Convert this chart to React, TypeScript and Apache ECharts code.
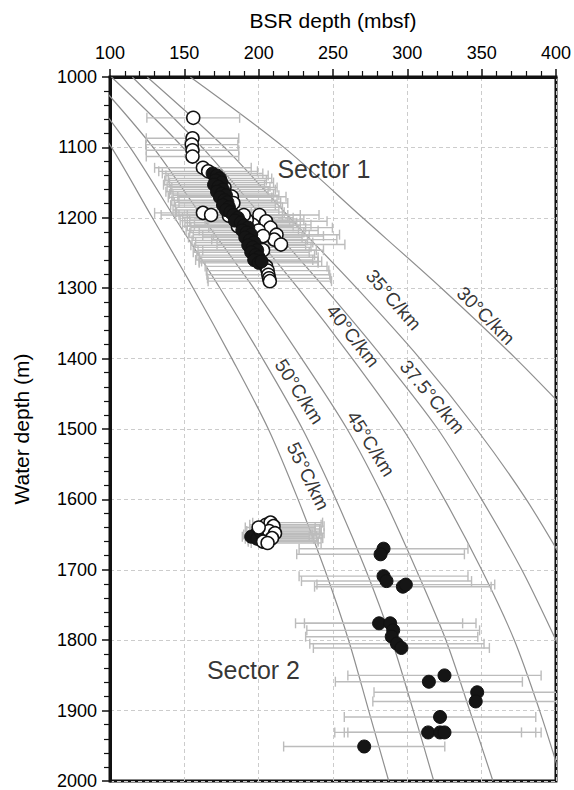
import React, { useEffect, useRef } from "react";
import * as echarts from "echarts";

// Geothermal-gradient reference curves: [BSR depth (mbsf), water depth (m)]
const grad30 = [[154, 1000], [217, 1100], [270, 1200], [323, 1300], [373, 1400], [419, 1500]];
const grad35 = [[125, 1000], [177, 1100], [221, 1200], [266, 1300], [308.5, 1400], [346.5, 1500], [380, 1600], [408.5, 1700]];
const grad375 = [[115, 1000], [162, 1100], [203, 1200], [244.5, 1300], [284, 1400], [320.5, 1500], [350, 1600], [377, 1700], [400, 1800], [422, 1900]];
const grad40 = [[101, 1000], [149, 1100], [187.5, 1200], [226.5, 1300], [263, 1400], [297, 1500], [325, 1600], [350, 1700], [372, 1800], [389, 1900], [404, 2000]];
const grad45 = [[88.5, 1000], [129, 1100], [162.5, 1200], [196.7, 1300], [229, 1400], [259.5, 1500], [284.5, 1600], [306, 1700], [326, 1800], [342, 1900], [357.6, 2000]];
const grad50 = [[78, 1000], [113.5, 1100], [143.5, 1200], [174, 1300], [202.7, 1400], [229.5, 1500], [252, 1600], [272, 1700], [289.5, 1800], [304, 1900], [317.8, 2000]];
const grad55 = [[69, 1000], [101, 1100], [128.5, 1200], [156, 1300], [182, 1400], [206.5, 1500], [226.5, 1600], [244.5, 1700], [260.5, 1800], [274, 1900], [287.5, 2000]];

const curveLabelTexts = ["30°C/km", "35°C/km", "37.5°C/km", "40°C/km", "45°C/km", "50°C/km", "55°C/km"];
const curveLabelX = [352.8, 290.7, 316.8, 263.3, 275.4, 227.3, 233.2];
const curveLabelY = [1339, 1316.5, 1454.5, 1367.7, 1521, 1447, 1567];
const curveLabelAngle = [-45, -49, -50, -52, -58, -57, -64];

const sectorTexts = ["Sector 1", "Sector 2"];
const sectorX = [243.9, 196.5];
const sectorY = [1130.5, 1843];

// Points: [BSR depth, water depth, error low, error high]
const sector1Open = [
  [156, 1058, 124.8, 187.2], [155.5, 1087, 124.4, 186.6], [155, 1096, 124, 186], [155.5, 1104, 124.4, 186.6],
  [155.5, 1113, 124.4, 186.6], [162.5, 1129, 130, 195], [166, 1134, 132.8, 199.2], [177, 1157, 141.6, 212.4],
  [182, 1170, 145.6, 218.4], [183, 1179, 146.4, 219.6], [162.5, 1193, 130, 195], [168, 1196, 134.4, 201.6],
  [200.5, 1196, 160.4, 240.6], [205, 1205, 164, 246], [208, 1214, 166.4, 249.6], [212, 1224, 169.6, 254.4],
  [210.5, 1231, 168.4, 252.6], [215, 1238, 172, 258], [196, 1210, 156.8, 235.2], [200, 1218, 160, 240],
  [203, 1226, 162.4, 243.6], [192, 1203, 153.6, 230.4], [186, 1212, 148.8, 223.2], [203, 1246, 162.4, 243.6],
  [200, 1262, 160, 240], [205, 1269, 164, 246], [206, 1275, 164.8, 247.2], [206.5, 1281, 165.2, 247.8],
  [207, 1286, 165.6, 248.4], [207.5, 1290, 166, 249], [190, 1196, 152, 228], [180, 1197, 144, 216],
];
const sector1Filled = [
  [169, 1137, 135.2, 202.8], [172, 1140, 137.6, 206.4], [174, 1144, 139.2, 208.8], [171, 1147, 136.8, 205.2],
  [175, 1150, 140, 210], [170, 1153, 136, 204], [173, 1156, 138.4, 207.6], [176, 1160, 140.8, 211.2],
  [172, 1163, 137.6, 206.4], [175, 1166, 140, 210], [178, 1168, 142.4, 213.6], [174, 1171, 139.2, 208.8],
  [177, 1175, 141.6, 212.4], [179, 1178, 143.2, 214.8], [176, 1182, 140.8, 211.2], [180, 1185, 144, 216],
  [178, 1189, 142.4, 213.6], [181, 1192, 144.8, 217.2], [183, 1196, 146.4, 219.6], [186, 1200, 148.8, 223.2],
  [184, 1204, 147.2, 220.8], [188, 1207, 150.4, 225.6], [190, 1211, 152, 228], [193, 1214, 154.4, 231.6],
  [189, 1218, 151.2, 226.8], [192, 1221, 153.6, 230.4], [195, 1224, 156, 234], [191, 1228, 152.8, 229.2],
  [194, 1232, 155.2, 232.8], [197, 1235, 157.6, 236.4], [193, 1239, 154.4, 231.6], [196, 1242, 156.8, 235.2],
  [199, 1246, 159.2, 238.8], [195, 1249, 156, 234], [198, 1253, 158.4, 237.6], [200, 1256, 160, 240],
  [197, 1260, 157.6, 236.4], [200, 1264, 160, 240], [202, 1262, 161.6, 242.4],
];
const sector2Filled = [
  [198, 1650, 190, 236], [201, 1652, 192, 239], [204, 1648, 194, 241], [195, 1653, 189, 234],
  [199, 1656, 191, 237], [203, 1658, 193, 240], [206, 1655, 195, 243], [207, 1650, 196, 242],
  [201, 1645, 192, 238], [205, 1642, 194, 241],
  [284, 1670, 227.2, 340.8], [282, 1678, 225.6, 338.4], [284, 1709, 227.2, 340.8], [286, 1716, 228.8, 343.2],
  [297, 1724, 237.6, 356.4], [299, 1721, 239.2, 358.8], [281, 1776, 224.8, 337.2], [288.5, 1776, 230.8, 346.2],
  [290.5, 1786, 232.4, 348.6], [289.5, 1795, 231.6, 347.4], [293, 1805, 234.4, 351.6], [296, 1811, 236.8, 355.2],
  [325, 1850, 260, 390], [314.5, 1859, 251.6, 377.4], [347, 1874, 277.6, 416.4], [346, 1887, 276.8, 415.2],
  [322, 1909, 257.6, 386.4], [314, 1931, 251.2, 376.8], [322, 1931, 257.6, 386.4], [325, 1931, 260, 390],
  [271, 1951, 216.8, 325.2],
];
const sector2Open = [
  [205, 1636, 194, 242], [208, 1633, 196, 243], [210, 1638, 197, 244], [207, 1645, 195, 242],
  [211, 1648, 197, 244], [209, 1655, 196, 243], [203, 1660, 193, 240], [206, 1662, 195, 242],
  [200, 1640, 191, 238],
];

const FONT = "Liberation Sans, Arial, Helvetica, sans-serif";

function renderErrorBar(params: any, api: any) {
  const y = api.value(1);
  const lo = api.coord([api.value(2), y]);
  const hi = api.coord([api.value(3), y]);
  const cap = 5;
  const style = { stroke: "#bcbcbc", lineWidth: 1.4 };
  return {
    type: "group",
    children: [
      { type: "line", shape: { x1: lo[0], y1: lo[1], x2: hi[0], y2: hi[1] }, style },
      { type: "line", shape: { x1: lo[0], y1: lo[1] - cap, x2: lo[0], y2: lo[1] + cap }, style },
      { type: "line", shape: { x1: hi[0], y1: hi[1] - cap, x2: hi[0], y2: hi[1] + cap }, style },
    ],
  };
}

export default function App() {
  const ref = useRef<HTMLDivElement>(null);
  useEffect(() => {
    if (!ref.current) return;
    const chart = echarts.init(ref.current, undefined, { renderer: "svg" });
    const curves = [grad30, grad35, grad375, grad40, grad45, grad50, grad55];
    const curveSeries = curves.map((d) => ({
      type: "line",
      data: d,
      showSymbol: false,
      smooth: 0.3,
      clip: true,
      silent: true,
      z: 1,
      lineStyle: { color: "#8f8f8f", width: 1.2 },
    }));
    const allPoints = [...sector1Open, ...sector1Filled, ...sector2Filled, ...sector2Open];
    const option: any = {
      animation: false,
      backgroundColor: "#ffffff",
      grid: { left: 110, top: 77, width: 449, height: 704, show: true, borderColor: "#111", borderWidth: 3, backgroundColor: "transparent" },
      xAxis: {
        type: "value", position: "top", min: 100, max: 400, interval: 50,
        name: "BSR depth (mbsf)", nameLocation: "middle", nameGap: 46,
        nameTextStyle: { fontSize: 21, fontFamily: FONT, color: "#000" },
        axisLine: { show: true, lineStyle: { color: "#111", width: 3 } },
        axisTick: { show: true, inside: false, length: 8, lineStyle: { color: "#111", width: 1.5 } },
        minorTick: { show: true, splitNumber: 5, length: 6, lineStyle: { color: "#111", width: 1.2 } },
        splitLine: { show: true, lineStyle: { color: "#cccccc", type: [4, 3], width: 1 } },
        axisLabel: { fontSize: 18, fontFamily: FONT, color: "#000", margin: 15 },
      },
      yAxis: {
        type: "value", inverse: true, min: 1000, max: 2000, interval: 100,
        name: "Water depth (m)", nameLocation: "middle", nameGap: 78, nameRotate: 90,
        nameTextStyle: { fontSize: 21, fontFamily: FONT, color: "#000" },
        axisLine: { show: true, lineStyle: { color: "#111", width: 3 } },
        axisTick: { show: true, inside: false, length: 8, lineStyle: { color: "#111", width: 1.5 } },
        minorTick: { show: true, splitNumber: 5, length: 6, lineStyle: { color: "#111", width: 1.2 } },
        splitLine: { show: true, lineStyle: { color: "#cccccc", type: [4, 3], width: 1 } },
        axisLabel: { fontSize: 18, fontFamily: FONT, color: "#000", margin: 13, formatter: (v: number) => String(v) },
      },
      series: [
        ...curveSeries,
        {
          type: "custom",
          renderItem: renderErrorBar,
          data: allPoints,
          encode: { x: [0, 2, 3], y: 1 },
          clip: true,
          silent: true,
          z: 2,
        },
        {
          type: "scatter", data: sector1Open.map((p) => [p[0], p[1]]), symbol: "circle", symbolSize: 13, z: 3,
          itemStyle: { color: "#ffffff", borderColor: "#111", borderWidth: 1.5, opacity: 1 },
        },
        {
          type: "scatter", data: sector1Filled.map((p) => [p[0], p[1]]), symbol: "circle", symbolSize: 13, z: 4,
          itemStyle: { color: "#151515", borderColor: "#111", borderWidth: 1, opacity: 1 },
        },
        {
          type: "scatter", data: sector2Filled.map((p) => [p[0], p[1]]), symbol: "circle", symbolSize: 13, z: 4,
          itemStyle: { color: "#151515", borderColor: "#111", borderWidth: 1, opacity: 1 },
        },
        {
          type: "scatter", data: sector2Open.map((p) => [p[0], p[1]]), symbol: "circle", symbolSize: 13, z: 5,
          itemStyle: { color: "#ffffff", borderColor: "#111", borderWidth: 1.5, opacity: 1 },
        },
        {
          type: "scatter", silent: true, z: 6, symbolSize: 1,
          itemStyle: { color: "rgba(0,0,0,0)" },
          data: curveLabelTexts.map((t, i) => ({
            value: [curveLabelX[i], curveLabelY[i]],
            label: { show: true, formatter: t, rotate: curveLabelAngle[i], position: "inside", fontSize: 19, fontFamily: FONT, color: "#000" },
          })),
        },
        {
          type: "scatter", silent: true, z: 6, symbolSize: 1,
          itemStyle: { color: "rgba(0,0,0,0)" },
          data: sectorTexts.map((t, i) => ({
            value: [sectorX[i], sectorY[i]],
            label: { show: true, formatter: t, position: "inside", fontSize: 25, fontFamily: FONT, color: "#000" },
          })),
        },
      ],
    };
    chart.setOption(option);
    return () => chart.dispose();
  }, []);
  return <div ref={ref} style={{ position: "fixed", left: 0, top: 0, width: 574, height: 790, background: "#fff" }} />;
}
